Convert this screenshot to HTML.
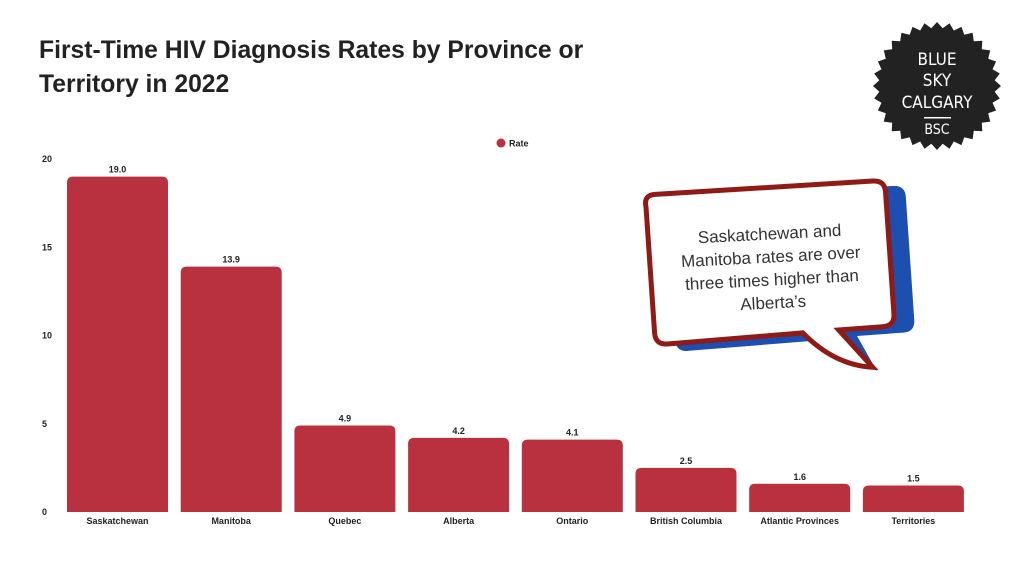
<!DOCTYPE html>
<html><head><meta charset="utf-8"><style>
body{margin:0;background:#fff;width:1024px;height:576px;overflow:hidden;font-family:"Liberation Sans",sans-serif}
h1{position:absolute;left:39px;top:34px;margin:0;font-size:24.7px;line-height:34px;font-weight:bold;color:#222;width:620px}
svg{position:absolute;left:0;top:0}
</style></head><body>
<h1>First-Time HIV Diagnosis Rates by Province or Territory in 2022</h1>
<svg width="1024" height="576" id="s">
<g><circle cx="501" cy="143" r="4.5" fill="#b9313f"/><text x="509" y="146.5" font-size="9" font-weight="bold" fill="#222">Rate</text></g>
<g id="bars"></g>
<g transform="rotate(-3 780 280)">
<path d="M662 202 Q660 192 672 192 L898 192 Q910 192 910 204 L912 327 Q912 339 900 339 L854 340 L872 376 L826 342 L684 346 Q672 346 672 334 Z" fill="#1c4fb0"/>
<path d="M650 200 Q648 188 660 188 L878 186 Q890 186 890 198 L892 320 Q892 332 880 332 L836 333 L868 372 Q830 368 800 334 L664 338 Q652 338 652 326 Z" fill="#fff" stroke="#8f1a16" stroke-width="5"/>
<g font-size="17" fill="#333" text-anchor="middle"><text x="772" y="239">Saskatchewan and</text><text x="772" y="262">Manitoba rates are over</text><text x="772" y="285">three times higher than</text><text x="772" y="308">Alberta’s</text></g>
</g>
<g><polygon id="star" fill="#222"/>
<g fill="#fff" font-size="17" text-anchor="middle" font-family="'DejaVu Sans Condensed','Liberation Sans Narrow',sans-serif"><text x="937" y="65">BLUE</text><text x="937" y="86">SKY</text><text x="937" y="108">CALGARY</text><text x="937" y="134" font-size="14">BSC</text></g>
<rect x="924" y="117" width="27" height="1.5" fill="#fff"/></g>
</svg>
<script>
const categories=["Saskatchewan","Manitoba","Quebec","Alberta","Ontario","British Columbia","Atlantic Provinces","Territories"];
const rates=[19.0,13.9,4.9,4.2,4.1,2.5,1.6,1.5];
const yTicks=[0,5,10,15,20];
const NS="http://www.w3.org/2000/svg";
const s=document.getElementById('s'),g=document.getElementById('bars');
const y=v=>512-v*17.65, x0=61, slot=113.7, bw=101;
function el(t,a,p){const e=document.createElementNS(NS,t);for(const k in a)e.setAttribute(k,a[k]);(p||g).appendChild(e);return e;}
yTicks.forEach(t=>{const e=el('text',{x:42,y:y(t)+3,'font-size':9,'font-weight':'bold',fill:'#222'});e.textContent=t;

});
categories.forEach((c,i)=>{const v=rates[i],x=x0+slot*i+6,top=y(v),r=6;
const p=el('path',{d:`M${x} 512 V${top+r} Q${x} ${top} ${x+r} ${top} H${x+bw-r} Q${x+bw} ${top} ${x+bw} ${top+r} V512 Z`,fill:'#b9313f'});


const l=el('text',{x:x+bw/2,y:top-4,'font-size':9,'font-weight':'bold',fill:'#222','text-anchor':'middle'});l.textContent=v.toFixed(1);


const c2=el('text',{x:x+bw/2,y:524,'font-size':9,'font-weight':'bold',fill:'#222','text-anchor':'middle'});c2.textContent=c;

});
let pts=[];const N=32;for(let i=0;i<2*N;i++){const a=i*Math.PI/N,r=i%2?58:64;pts.push((937+r*Math.cos(a)).toFixed(1)+','+(86+r*Math.sin(a)).toFixed(1));}
document.getElementById('star').setAttribute('points',pts.join(' '));
</script>
</body></html>
